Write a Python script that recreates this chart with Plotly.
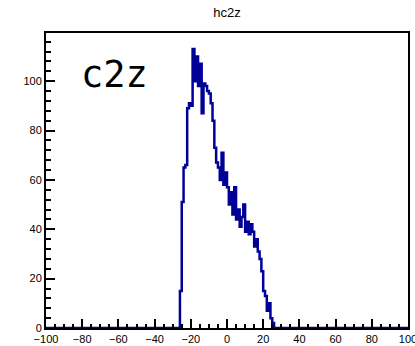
import plotly.graph_objects as go

# ---- data ----
bin_left_edges = list(range(-26, 26))  # bin width 1
counts = [15, 51, 65, 66, 89, 91, 90, 113, 100, 110, 98, 107, 87, 99, 98, 96,
          95, 91, 84, 73, 67, 65, 60, 71, 58, 63, 57, 50, 55, 46, 57, 44,
          48, 41, 45, 50, 39, 43, 38, 42, 39, 33, 36, 31, 28, 23, 15, 13,
          7, 10, 4, 2]
x_range = [-100, 100]
y_range = [0, 119.5]
title = "hc2z"
label = "c2z"

xs = [x_range[0]] + bin_left_edges + [bin_left_edges[-1] + 1, x_range[1]]
ys = [0] + counts + [0, 0]

fig = go.Figure()
fig.add_trace(go.Scatter(x=xs, y=ys, mode="lines", line_shape="hv",
                         line=dict(color="#000099", width=2.5), hoverinfo="skip"))

axis_common = dict(showline=True, linecolor="black", linewidth=2, mirror=True,
                   showgrid=False, zeroline=False, ticks="inside", ticklen=9,
                   tickwidth=1.5, tickcolor="black", automargin=False,
                   ticklabeloverflow="allow",
                   tickfont=dict(family="Liberation Sans", size=11, color="black"))

fig.update_xaxes(range=x_range, dtick=20, tick0=-100,
                 minor=dict(ticks="inside", ticklen=4.5, dtick=5, tickwidth=1.5,
                            tickcolor="black", showgrid=False),
                 **axis_common)
fig.update_yaxes(range=y_range, dtick=20, tick0=0,
                 minor=dict(ticks="inside", ticklen=4.5, dtick=4, tickwidth=1.5,
                            tickcolor="black", showgrid=False),
                 **axis_common)

fig.add_annotation(text=label, xref="paper", yref="paper", x=0.09, y=0.94,
                   xanchor="left", yanchor="top", showarrow=False,
                   font=dict(family="DejaVu Sans Mono", size=37, color="black"))

fig.update_layout(
    width=415, height=346,
    margin=dict(l=46, r=7, t=33, b=18),
    paper_bgcolor="white", plot_bgcolor="white",
    showlegend=False,
    title=dict(text=title, x=0.547, xanchor="center", y=0.965, yanchor="middle",
               font=dict(family="Liberation Sans", size=13, color="black")),
)

fig.write_html("out.html")
